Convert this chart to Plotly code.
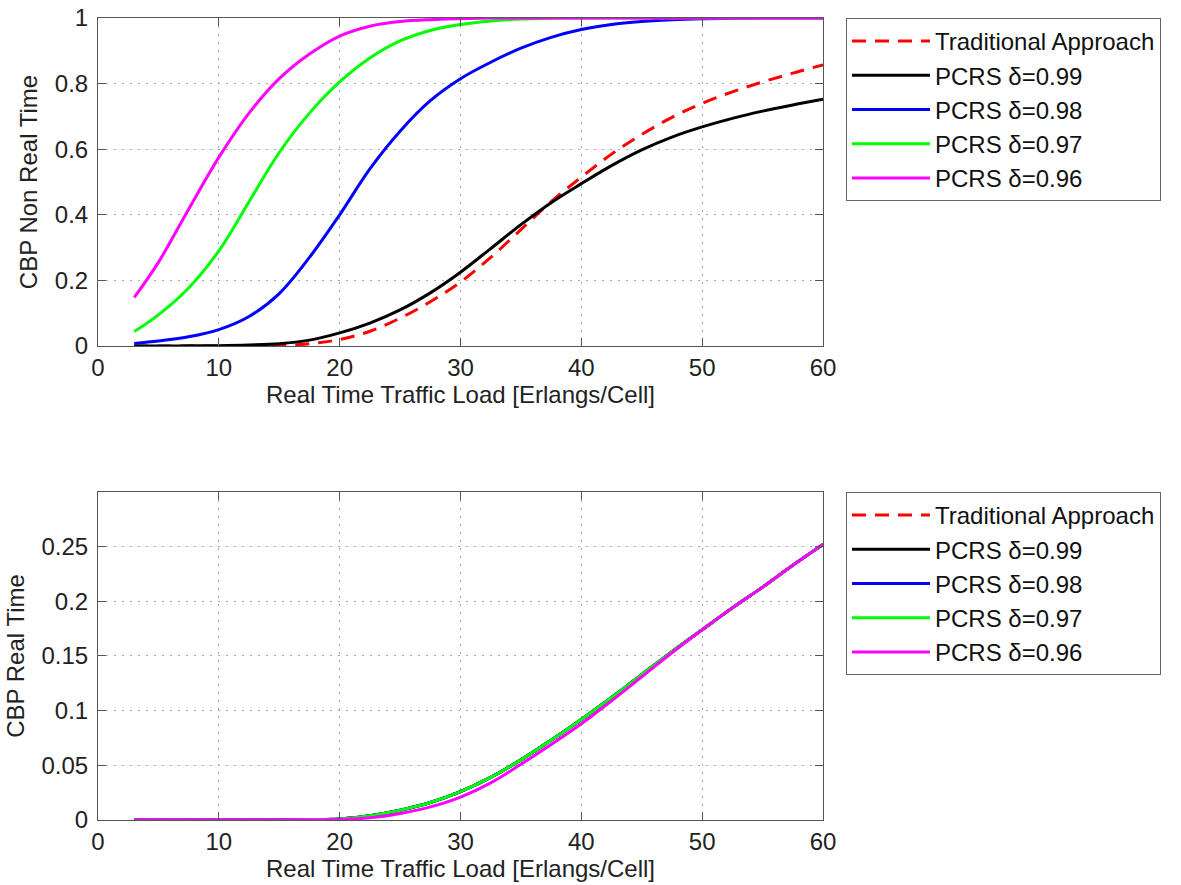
import plotly.graph_objects as go

# Shared x grid (Real Time Traffic Load, Erlangs/Cell)
load = [3, 5, 7.5, 10, 12.5, 15, 17.5, 20, 22.5, 25, 27.5, 30, 32.5, 35, 37.5, 40,
        42.5, 45, 47.5, 50, 52.5, 55, 57.5, 60]

series_names = ["Traditional Approach", "PCRS \u03b4=0.99", "PCRS \u03b4=0.98",
                "PCRS \u03b4=0.97", "PCRS \u03b4=0.96"]

# Top panel: CBP Non Real Time
nrt_trad = [0, 0, 0, 0, 0, 0.001, 0.007, 0.02, 0.045, 0.085, 0.135, 0.195, 0.27, 0.355, 0.44, 0.515,
            0.585, 0.645, 0.697, 0.74, 0.775, 0.805, 0.832, 0.857]
nrt_099 = [0, 0, 0.0005, 0.001, 0.003, 0.007, 0.018, 0.04, 0.07, 0.11, 0.162, 0.225, 0.297, 0.37, 0.437, 0.495,
           0.55, 0.598, 0.637, 0.668, 0.694, 0.716, 0.735, 0.752]
nrt_098 = [0.008, 0.015, 0.028, 0.05, 0.09, 0.16, 0.27, 0.40, 0.54, 0.655, 0.748, 0.815, 0.865, 0.908, 0.941, 0.965,
           0.98, 0.989, 0.995, 0.998, 0.999, 1, 1, 1]
nrt_097 = [0.044, 0.095, 0.177, 0.29, 0.44, 0.59, 0.71, 0.805, 0.878, 0.93, 0.962, 0.98, 0.991, 0.997, 0.999, 1,
           1, 1, 1, 1, 1, 1, 1, 1]
nrt_096 = [0.148, 0.255, 0.417, 0.575, 0.71, 0.815, 0.89, 0.945, 0.975, 0.989, 0.995, 0.998, 1, 1, 1, 1,
           1, 1, 1, 1, 1, 1, 1, 1]

# Bottom panel: CBP Real Time
rt_trad = [0, 0, 0, 0, 0, 0.0001, 0.0004, 0.001, 0.004, 0.009, 0.016, 0.026, 0.039, 0.055, 0.073, 0.092,
           0.112, 0.133, 0.154, 0.174, 0.194, 0.213, 0.233, 0.252]
rt_099 = [0, 0, 0, 0, 0, 0.0001, 0.0004, 0.001, 0.004, 0.009, 0.016, 0.026, 0.039, 0.055, 0.073, 0.092,
          0.112, 0.133, 0.154, 0.174, 0.194, 0.213, 0.233, 0.252]
rt_098 = [0, 0, 0, 0, 0, 0.0001, 0.0004, 0.001, 0.004, 0.009, 0.016, 0.026, 0.039, 0.055, 0.073, 0.092,
          0.112, 0.133, 0.154, 0.174, 0.194, 0.213, 0.233, 0.252]
rt_097 = [0, 0, 0, 0, 0, 0.0001, 0.0004, 0.001, 0.004, 0.009, 0.016, 0.026, 0.039, 0.055, 0.073, 0.092,
          0.112, 0.133, 0.154, 0.174, 0.194, 0.213, 0.233, 0.252]
rt_096 = [0, 0, 0, 0, 0, 0.0001, 0.0002, 0.0005, 0.002, 0.006, 0.012, 0.021, 0.034, 0.051, 0.069, 0.088,
          0.109, 0.131, 0.153, 0.174, 0.194, 0.213, 0.233, 0.252]

x_ticks = [0, 10, 20, 30, 40, 50, 60]
top_ticks = [0, 0.2, 0.4, 0.6, 0.8, 1]
top_tick_text = ["0", "0.2", "0.4", "0.6", "0.8", "1"]
bot_ticks = [0, 0.05, 0.1, 0.15, 0.2, 0.25]
bot_tick_text = ["0", "0.05", "0.1", "0.15", "0.2", "0.25"]

colors = ["#ff0000", "#000000", "#0000ff", "#00ff00", "#ff00ff"]
dashes = ["14px,9px", "solid", "solid", "solid", "solid"]

FONT = "Liberation Sans, Arial, Helvetica, sans-serif"

fig = go.Figure()

top_data = [nrt_trad, nrt_099, nrt_098, nrt_097, nrt_096]
bot_data = [rt_trad, rt_099, rt_098, rt_097, rt_096]

for name, ys, c, d in zip(series_names, top_data, colors, dashes):
    fig.add_trace(go.Scatter(x=load, y=ys, mode="lines", name=name,
                             line=dict(color=c, width=3, dash=d, shape="spline", smoothing=1.0),
                             xaxis="x", yaxis="y", legend="legend"))
for name, ys, c, d in zip(series_names, bot_data, colors, dashes):
    fig.add_trace(go.Scatter(x=load, y=ys, mode="lines", name=name,
                             line=dict(color=c, width=3, dash=d, shape="spline", smoothing=1.0),
                             xaxis="x2", yaxis="y2", legend="legend2"))

axis_common = dict(
    showline=True, linecolor="#555555", linewidth=1, mirror="ticks",
    ticks="inside", ticklen=8, tickcolor="#555555",
    showgrid=True, gridcolor="#a8a8a8", griddash="2px,6px", gridwidth=1,
    zeroline=False, automargin=False,
    tickfont=dict(family=FONT, size=24, color="#222222"),
)

title_font = dict(family=FONT, size=24, color="#222222")

legend_common = dict(
    xanchor="left", yanchor="top",
    bordercolor="#666666", borderwidth=1, bgcolor="white",
    font=dict(family=FONT, size=24, color="#111111"),
    tracegroupgap=0, itemwidth=78,
)

fig.update_layout(
    width=1181, height=885,
    margin=dict(l=98, r=358, t=18, b=65),
    paper_bgcolor="white", plot_bgcolor="white",
    showlegend=True,
    xaxis=dict(axis_common, domain=[0, 1], range=[0, 60], tickvals=x_ticks, anchor="y",
               title=dict(text="Real Time Traffic Load [Erlangs/Cell]", font=title_font, standoff=4)),
    yaxis=dict(axis_common, domain=[0.591, 1], range=[0, 1], tickvals=top_ticks, ticktext=top_tick_text,
               anchor="x", ticklabelstandoff=4,
               title=dict(text="CBP Non Real Time", font=title_font, standoff=10)),
    xaxis2=dict(axis_common, domain=[0, 1], range=[0, 60], tickvals=x_ticks, anchor="y2",
                title=dict(text="Real Time Traffic Load [Erlangs/Cell]", font=title_font, standoff=4)),
    yaxis2=dict(axis_common, domain=[0, 0.409], range=[0, 0.3], tickvals=bot_ticks, ticktext=bot_tick_text,
                anchor="x2", ticklabelstandoff=4,
                title=dict(text="CBP Real Time", font=title_font, standoff=10)),
    legend=dict(legend_common, x=1.0317, y=1),
    legend2=dict(legend_common, x=1.0317, y=0.409),
)

fig.write_html("out.html")
